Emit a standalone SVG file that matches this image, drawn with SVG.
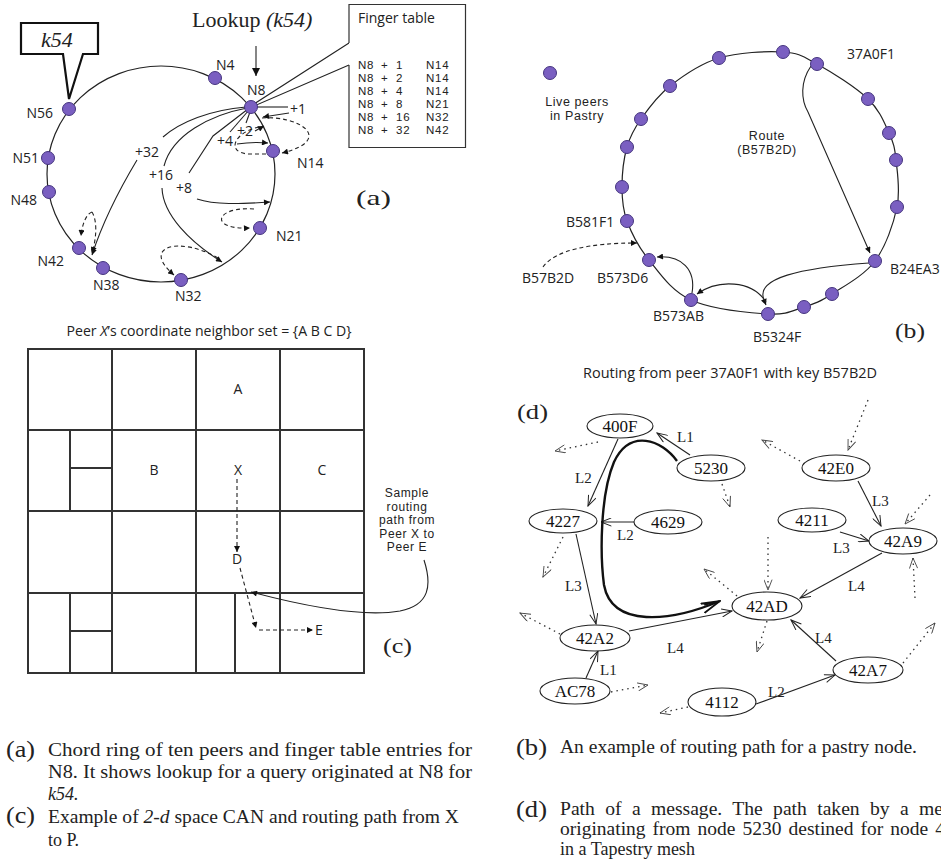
<svg xmlns="http://www.w3.org/2000/svg" width="941" height="861" viewBox="0 0 941 861">
<style>
.bg{fill:#fff}
.peer{fill:#7a5fc1;stroke:#45357f;stroke-width:1}
.ring{fill:none;stroke:#222;stroke-width:1.2}
.ln{fill:none;stroke:#222;stroke-width:1.1}
.dash{fill:none;stroke:#222;stroke-width:1.1;stroke-dasharray:4 3}
.sans{font-family:"Open Sans","Noto Sans","DejaVu Sans",sans-serif;fill:#222}
.s14{font-size:14px}
.ml{font-family:"Liberation Sans",Arial,sans-serif;fill:#222;letter-spacing:0.6px}
.serif{font-family:"Liberation Serif","Times New Roman",serif;fill:#222}
.grid{fill:none;stroke:#333;stroke-width:2}
.tn{fill:#fff;stroke:#222;stroke-width:1.1}
.tl{font-family:"Liberation Serif","Times New Roman",serif;font-size:17px;fill:#111;text-anchor:middle}
.el{font-family:"Liberation Serif","Times New Roman",serif;font-size:15px;fill:#222}
.te{fill:none;stroke:#222;stroke-width:1.1}
.dot{fill:none;stroke:#333;stroke-width:1.3;stroke-dasharray:1.5 4}
.cap{font-family:"Liberation Serif","Times New Roman",serif;font-size:18px;fill:#222}
.capl{font-family:"Liberation Serif","Times New Roman",serif;font-size:24px;fill:#222}
.ft{font-family:"Liberation Sans",Arial,sans-serif;font-size:11.5px;letter-spacing:0.8px;fill:#222}
</style>
<defs>
<marker id="arr" viewBox="0 0 10 10" refX="10" refY="5" markerWidth="7" markerHeight="6" markerUnits="userSpaceOnUse" orient="auto"><path d="M0,0 L10,5 L0,10 z" fill="#111"/></marker>
<marker id="arrL" viewBox="0 0 10 10" refX="10" refY="5" markerWidth="9" markerHeight="8" markerUnits="userSpaceOnUse" orient="auto"><path d="M0,0 L10,5 L0,10 z" fill="#111"/></marker>
<marker id="vee" viewBox="0 0 12 10" refX="11.5" refY="5" markerWidth="12" markerHeight="9" markerUnits="userSpaceOnUse" orient="auto"><path d="M0,0.5 L11.5,5 L0,9.5" fill="none" stroke="#222" stroke-width="1.1"/></marker>
<marker id="veeD" viewBox="0 0 12 10" refX="11.5" refY="5" markerWidth="12" markerHeight="9" markerUnits="userSpaceOnUse" orient="auto"><path d="M0,0.5 L11.5,5 L0,9.5" fill="none" stroke="#444" stroke-width="1"/></marker>
<marker id="veeB" viewBox="0 0 20 12" refX="19" refY="6" markerWidth="20" markerHeight="12" markerUnits="userSpaceOnUse" orient="auto"><path d="M0,1 L19,6 L0,11 M3,3.5 L19,6" fill="none" stroke="#111" stroke-width="1.8"/></marker>
</defs>
<rect class="bg" x="0" y="0" width="941" height="861"/>

<!-- ============ (a) Chord ============ -->
<g id="chord-ring"><ellipse class="ring" cx="161" cy="174" rx="114" ry="108"/></g>

<g id="chord-connectors">
  <path class="ln" d="M256,107 L288,107"/>
  <path class="ln" d="M250,112 L246,123"/>
  <path class="ln" d="M249,110 L230,132"/>
  <path class="ln" d="M248,109 L213,136 L189,173"/>
  <path class="ln" d="M247,108 C210,115 172,135 164,166"/>
  <path class="ln" d="M246,107 C210,110 180,122 163,137"/>
  <path class="ln" d="M289,113 L263,117" marker-end="url(#arr)"/>
  <path class="ln" d="M255,131 L264,126" marker-end="url(#arr)"/>
  <path class="ln" d="M237,144 C250,142 258,142 268,143" marker-end="url(#arr)"/>
  <path class="ln" d="M197,199 C215,205 240,204 270,202" marker-end="url(#arr)"/>
  <path class="ln" d="M162,188 C163,215 190,242 222,262" marker-end="url(#arr)"/>
  <path class="ln" d="M137,160 C125,180 105,215 92,255" marker-end="url(#arr)"/>
  <path class="dash" d="M262,118 C300,115 335,140 282,153" marker-end="url(#arr)"/>
  <path class="dash" d="M259,127 C235,132 225,152 248,154 L266,154"/>
  <path class="dash" d="M254,209 C215,206 208,230 250,228" marker-end="url(#arr)"/>
  <path class="dash" d="M218,258 C180,236 140,246 174,275" marker-end="url(#arr)"/>
  <path class="dash" d="M92,212 C98,222 96,240 92,253" marker-end="url(#arr)"/>
  <path class="dash" d="M92,212 C86,214 82,225 81,236" marker-end="url(#arr)"/>
  <path class="ln" d="M256,46 L256,76" stroke-width="1.4" marker-end="url(#arrL)"/>
  <path class="ln" d="M349,43 L254,104 M349,65 L254,106"/>
</g>

<g id="chord-labels" class="sans s14">
  <text x="290" y="114">+1</text>
  <text x="237" y="136">+2</text>
  <text x="217" y="146">+4</text>
  <text x="176" y="193">+8</text>
  <text x="149" y="180">+16</text>
  <text x="135" y="157">+32</text>
</g>

<g id="node-N8"><circle class="peer" cx="251" cy="107" r="6.5"/><text class="sans s14" x="247" y="95">N8</text></g>
<g id="node-N4"><circle class="peer" cx="215" cy="78" r="6.5"/><text class="sans s14" x="216" y="70">N4</text></g>
<g id="node-N14"><circle class="peer" cx="273" cy="151" r="6.5"/><text class="sans s14" x="297" y="168">N14</text></g>
<g id="node-N21"><circle class="peer" cx="260" cy="228" r="6.5"/><text class="sans s14" x="276" y="241">N21</text></g>
<g id="node-N32"><circle class="peer" cx="181" cy="280" r="6.5"/><text class="sans s14" x="175" y="301">N32</text></g>
<g id="node-N38"><circle class="peer" cx="103" cy="268" r="6.5"/><text class="sans s14" x="93" y="290">N38</text></g>
<g id="node-N42"><circle class="peer" cx="79" cy="248" r="6.5"/><text class="sans s14" x="64" y="266" text-anchor="end">N42</text></g>
<g id="node-N48"><circle class="peer" cx="49" cy="192" r="6.5"/><text class="sans s14" x="37" y="205" text-anchor="end">N48</text></g>
<g id="node-N51"><circle class="peer" cx="48" cy="158" r="6.5"/><text class="sans s14" x="39" y="163" text-anchor="end">N51</text></g>
<g id="node-N56"><circle class="peer" cx="69" cy="109" r="6.5"/><text class="sans s14" x="53" y="118" text-anchor="end">N56</text></g>

<g id="callout-k54">
  <path d="M21,23 L98,23 L98,54 L83,54 L69,99 L63,54 L21,54 Z" fill="#fff" stroke="#111" stroke-width="2.2"/>
  <text class="serif" x="57" y="47" font-size="22" font-style="italic" text-anchor="middle">k54</text>
</g>

<g id="lookup-title"><text class="serif" x="192" y="27" font-size="22">Lookup <tspan font-style="italic">(k54)</tspan></text></g>

<g id="finger-table">
  <path d="M349,43 L349,4.5 L465.5,4.5 L465.5,147.5 L349,147.5 L349,65" fill="#fff" stroke="#333" stroke-width="1.2"/>
  <text class="sans" font-size="14" x="358" y="23">Finger table</text>
  <text class="ft" y="69"><tspan x="358">N8</tspan><tspan x="381">+</tspan><tspan x="396">1</tspan><tspan x="426">N14</tspan></text>
  <text class="ft" y="82"><tspan x="358">N8</tspan><tspan x="381">+</tspan><tspan x="396">2</tspan><tspan x="426">N14</tspan></text>
  <text class="ft" y="95"><tspan x="358">N8</tspan><tspan x="381">+</tspan><tspan x="396">4</tspan><tspan x="426">N14</tspan></text>
  <text class="ft" y="108"><tspan x="358">N8</tspan><tspan x="381">+</tspan><tspan x="396">8</tspan><tspan x="426">N21</tspan></text>
  <text class="ft" y="121"><tspan x="358">N8</tspan><tspan x="381">+</tspan><tspan x="396">16</tspan><tspan x="426">N32</tspan></text>
  <text class="ft" y="134"><tspan x="358">N8</tspan><tspan x="381">+</tspan><tspan x="396">32</tspan><tspan x="426">N42</tspan></text>
</g>
<text class="serif" x="356" y="205" font-size="22" textLength="35" lengthAdjust="spacingAndGlyphs">(a)</text>

<!-- ============ (b) Pastry ============ -->
<g id="pastry-ring"><path class="ring" d="M719,58 C737.8,52.3 766.7,51 783,52 C799.3,53 802.8,56.2 817,64 C831.2,71.8 856,87.5 868,99 C880,110.5 884.3,122.8 889,133 C893.7,143.2 894.7,147.7 896,160 C897.3,172.3 900.5,190.2 897,207 C893.5,223.8 885.8,246.5 875,261 C864.2,275.5 843.8,286.3 832,294 C820.2,301.7 814.7,303.7 804,307 C793.3,310.3 786.8,315.2 768,314 C749.2,312.8 710.8,309 691,300 C671.2,291 659.7,273.2 649,260 C638.3,246.8 631.5,233.2 627,221 C622.5,208.8 622,199.3 622,187 C622,174.7 623.8,158.3 627,147 C630.2,135.7 633.8,129.2 641,119 C648.2,108.8 657,96.2 670,86 C683,75.8 700.2,63.7 719,58 Z"/></g>

<g id="pastry-connectors">
  <path class="ln" d="M811,66 C800,82 801,100 808,112 L870,253" marker-end="url(#arr)"/>
  <path class="ln" d="M869,263 C800,268 755,278 764,300 L766,305" marker-end="url(#arr)"/>
  <path class="ln" d="M766,302 C752,280 718,279 697,294" marker-end="url(#arr)"/>
  <path class="ln" d="M692,293 C696,270 682,255 657,257" marker-end="url(#arr)"/>
  <path class="dash" d="M543,267 C555,250 590,243 637,243" marker-end="url(#arr)"/>
</g>

<g id="pastry-legend">
  <circle class="peer" cx="550" cy="73" r="6.5"/>
  <text class="ml" font-size="12.5" text-anchor="middle"><tspan x="577" y="106">Live peers</tspan><tspan x="577" y="120">in Pastry</tspan></text>
</g>
<g id="pastry-route-label">
  <text class="ml" font-size="12.5" text-anchor="middle"><tspan x="767" y="140">Route</tspan><tspan x="767" y="154">(B57B2D)</tspan></text>
</g>

<g id="pastry-peers">
  <circle class="peer" cx="719" cy="58" r="6.5"/>
  <circle class="peer" cx="783" cy="52" r="6.5"/>
  <circle class="peer" cx="868" cy="99" r="6.5"/>
  <circle class="peer" cx="889" cy="133" r="6.5"/>
  <circle class="peer" cx="896" cy="160" r="6.5"/>
  <circle class="peer" cx="897" cy="207" r="6.5"/>
  <circle class="peer" cx="832" cy="294" r="6.5"/>
  <circle class="peer" cx="804" cy="307" r="6.5"/>
  <circle class="peer" cx="622" cy="187" r="6.5"/>
  <circle class="peer" cx="627" cy="147" r="6.5"/>
  <circle class="peer" cx="641" cy="119" r="6.5"/>
  <circle class="peer" cx="670" cy="86" r="6.5"/>
</g>
<g id="node-37A0F1"><circle class="peer" cx="817" cy="64" r="6.5"/><text class="sans s14" x="847" y="59">37A0F1</text></g>
<g id="node-B24EA3"><circle class="peer" cx="875" cy="261" r="6.5"/><text class="sans s14" x="890" y="274">B24EA3</text></g>
<g id="node-B5324F"><circle class="peer" cx="768" cy="314" r="6.5"/><text class="sans s14" x="753" y="342">B5324F</text></g>
<g id="node-B573AB"><circle class="peer" cx="691" cy="300" r="6.5"/><text class="sans s14" x="653" y="321">B573AB</text></g>
<g id="node-B573D6"><circle class="peer" cx="649" cy="260" r="6.5"/><text class="sans s14" x="597" y="283">B573D6</text></g>
<g id="node-B581F1"><circle class="peer" cx="627" cy="221" r="6.5"/><text class="sans s14" x="566" y="227">B581F1</text></g>
<g id="label-B57B2D"><text class="sans s14" x="522" y="283">B57B2D</text></g>
<text class="serif" x="895" y="338" font-size="22" textLength="30" lengthAdjust="spacingAndGlyphs">(b)</text>

<!-- ============ (c) CAN ============ -->
<text class="sans s14" x="209" y="336" text-anchor="middle" textLength="285" lengthAdjust="spacingAndGlyphs">Peer <tspan font-style="italic">X</tspan>’s coordinate neighbor set = {A B C D}</text>
<g id="can-grid">
  <rect class="grid" x="28" y="349" width="336" height="324"/>
  <path class="grid" d="M112,349 V673 M196,349 V673 M280,349 V673 M28,430 H364 M28,511 H364 M28,593 H364 M70,430 V511 M70,468 H112 M70,593 V673 M70,631 H112 M235,593 V673"/>
</g>
<g id="can-zones" class="sans s14" text-anchor="middle">
  <g id="zone-A"><text x="238" y="394">A</text></g>
  <g id="zone-B"><text x="154" y="475">B</text></g>
  <g id="zone-X"><text x="238" y="475">X</text></g>
  <g id="zone-C"><text x="322" y="475">C</text></g>
  <g id="zone-D"><text x="237" y="564">D</text></g>
  <g id="zone-E"><text x="319" y="635">E</text></g>
</g>
<g id="can-connectors">
  <path class="dash" d="M237,479 L237,552" marker-end="url(#arr)"/>
  <path class="dash" d="M240,568 L256,628" marker-end="url(#arr)"/>
  <path class="dash" d="M259,630 L313,630" marker-end="url(#arr)"/>
  <path class="ln" d="M424,560 C432,585 430,605 400,611 C360,618 300,605 251,592" marker-end="url(#arr)"/>
</g>
<g id="can-note">
  <text class="ml" font-size="12" text-anchor="middle"><tspan x="407" y="497">Sample</tspan><tspan x="407" y="510.5">routing</tspan><tspan x="407" y="524">path from</tspan><tspan x="407" y="537.5">Peer X to</tspan><tspan x="407" y="551">Peer E</tspan></text>
</g>
<text class="serif" x="383" y="653" font-size="22" textLength="29" lengthAdjust="spacingAndGlyphs">(c)</text>

<!-- ============ (d) Tapestry ============ -->
<text class="sans s14" x="730" y="378" text-anchor="middle" textLength="294" lengthAdjust="spacingAndGlyphs">Routing from peer 37A0F1 with key B57B2D</text>
<text class="serif" x="517" y="419" font-size="22" textLength="31" lengthAdjust="spacingAndGlyphs">(d)</text>

<g id="tapestry-connectors">
  <path class="te" d="M690,455 L657,433" marker-end="url(#vee)"/>
  <path class="te" d="M618,439 L588,506" marker-end="url(#vee)"/>
  <path class="te" d="M634,522 L601,522" marker-end="url(#vee)"/>
  <path class="te" d="M858,481 L881,526" marker-end="url(#vee)"/>
  <path class="te" d="M840,532 L869,541" marker-end="url(#vee)"/>
  <path class="te" d="M576,534 L596,624" marker-end="url(#vee)"/>
  <path class="te" d="M882,553 L800,598" marker-end="url(#vee)"/>
  <path class="te" d="M629,631 L732,611" marker-end="url(#vee)"/>
  <path class="te" d="M836,661 L791,620" marker-end="url(#vee)"/>
  <path class="te" d="M586,678 L598,651" marker-end="url(#vee)"/>
  <path class="te" d="M756,704 L835,675" marker-end="url(#vee)"/>
  <path d="M677,461 C662,440 630,428 614,462 C600,495 600,555 604,585 C612,628 670,622 720,601" fill="none" stroke="#111" stroke-width="2.4" marker-end="url(#veeB)"/>
  <path class="dot" d="M598,442 L555,451" marker-end="url(#veeD)"/>
  <path class="dot" d="M722,484 L730,507" marker-end="url(#veeD)"/>
  <path class="dot" d="M800,461 L762,440" marker-end="url(#veeD)"/>
  <path class="dot" d="M868,400 L848,450" marker-end="url(#veeD)"/>
  <path class="dot" d="M930,495 L905,524" marker-end="url(#veeD)"/>
  <path class="dot" d="M563,537 L543,577" marker-end="url(#veeD)"/>
  <path class="dot" d="M560,634 L520,613" marker-end="url(#veeD)"/>
  <path class="dot" d="M768,537 L768,590" marker-end="url(#veeD)"/>
  <path class="dot" d="M737,596 L704,569" marker-end="url(#veeD)"/>
  <path class="dot" d="M767,621 L757,652" marker-end="url(#veeD)"/>
  <path class="dot" d="M915,598 L913,558" marker-end="url(#veeD)"/>
  <path class="dot" d="M903,663 L935,623" marker-end="url(#veeD)"/>
  <path class="dot" d="M611,692 L648,685" marker-end="url(#veeD)"/>
  <path class="dot" d="M688,707 L660,713" marker-end="url(#veeD)"/>
</g>
<g id="tapestry-edge-labels" class="el">
  <text x="677" y="442">L1</text>
  <text x="575" y="483">L2</text>
  <text x="617" y="540">L2</text>
  <text x="872" y="506">L3</text>
  <text x="833" y="553">L3</text>
  <text x="565" y="591">L3</text>
  <text x="848" y="591">L4</text>
  <text x="667" y="653">L4</text>
  <text x="815" y="643">L4</text>
  <text x="600" y="675">L1</text>
  <text x="768" y="697">L2</text>
</g>

<g id="t-400F"><ellipse class="tn" cx="620" cy="426" rx="33" ry="12"/><text class="tl" x="620" y="432">400F</text></g>
<g id="t-5230"><ellipse class="tn" cx="711" cy="468" rx="34" ry="13"/><text class="tl" x="711" y="474">5230</text></g>
<g id="t-42E0"><ellipse class="tn" cx="836" cy="468" rx="34" ry="13"/><text class="tl" x="836" y="474">42E0</text></g>
<g id="t-4227"><ellipse class="tn" cx="563" cy="521" rx="34" ry="12"/><text class="tl" x="563" y="527">4227</text></g>
<g id="t-4629"><ellipse class="tn" cx="668" cy="522" rx="34" ry="12"/><text class="tl" x="668" y="528">4629</text></g>
<g id="t-4211"><ellipse class="tn" cx="812" cy="520" rx="34" ry="12"/><text class="tl" x="812" y="526">4211</text></g>
<g id="t-42A9"><ellipse class="tn" cx="903" cy="541" rx="34" ry="13"/><text class="tl" x="903" y="547">42A9</text></g>
<g id="t-42AD"><ellipse class="tn" cx="767" cy="606" rx="35" ry="14"/><text class="tl" x="767" y="612">42AD</text></g>
<g id="t-42A2"><ellipse class="tn" cx="595" cy="638" rx="35" ry="13"/><text class="tl" x="595" y="644">42A2</text></g>
<g id="t-42A7"><ellipse class="tn" cx="868" cy="670" rx="35" ry="13"/><text class="tl" x="868" y="676">42A7</text></g>
<g id="t-AC78"><ellipse class="tn" cx="575" cy="691" rx="35" ry="13"/><text class="tl" x="575" y="697">AC78</text></g>
<g id="t-4112"><ellipse class="tn" cx="722" cy="702" rx="34" ry="14"/><text class="tl" x="722" y="708">4112</text></g>

<!-- ============ Captions ============ -->
<g id="captions">
  <text class="capl" x="6" y="757" textLength="29" lengthAdjust="spacingAndGlyphs">(a)</text>
  <text class="cap" x="48" y="756" textLength="424" lengthAdjust="spacingAndGlyphs">Chord ring of ten peers and finger table entries for</text>
  <text class="cap" x="48" y="778" textLength="424" lengthAdjust="spacingAndGlyphs">N8. It shows lookup for a query originated at N8 for</text>
  <text class="cap" x="48" y="800" font-style="italic">k54.</text>
  <text class="capl" x="6" y="823" textLength="29" lengthAdjust="spacingAndGlyphs">(c)</text>
  <text class="cap" x="48" y="823" textLength="411" lengthAdjust="spacingAndGlyphs">Example of <tspan font-style="italic">2-d</tspan> space CAN and routing path from X</text>
  <text class="cap" x="48" y="846">to P.</text>
  <text class="capl" x="516" y="755" textLength="31" lengthAdjust="spacingAndGlyphs">(b)</text>
  <text class="cap" x="560" y="753" textLength="357" lengthAdjust="spacingAndGlyphs">An example of routing path for a pastry node.</text>
  <text class="capl" x="516" y="817" textLength="31" lengthAdjust="spacingAndGlyphs">(d)</text>
  <text class="cap" x="560" y="815" word-spacing="5" textLength="383" lengthAdjust="spacingAndGlyphs">Path of a message. The path taken by a me</text>
  <text class="cap" x="560" y="835" word-spacing="2" textLength="385" lengthAdjust="spacingAndGlyphs">originating from node 5230 destined for node 4</text>
  <text class="cap" x="560" y="855">in a Tapestry mesh</text>
</g>
</svg>
